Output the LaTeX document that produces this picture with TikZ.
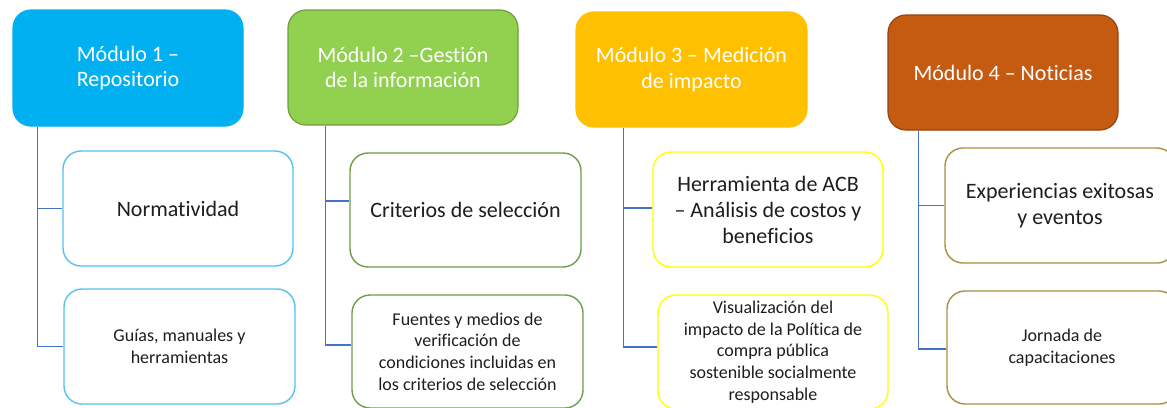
\documentclass[tikz,border=0pt]{standalone}
\usepackage{fontspec}
\setmainfont{Carlito}[Ligatures=NoCommon]
\definecolor{mone}{HTML}{00B0F0}
\definecolor{mtwo}{HTML}{92D050}
\definecolor{mtwoB}{HTML}{6E9E3E}
\definecolor{mthree}{HTML}{FFC000}
\definecolor{mfour}{HTML}{C55A11}
\definecolor{mfourB}{HTML}{96440E}
\definecolor{cone}{HTML}{56C2F0}
\definecolor{ctwo}{HTML}{6E9E48}
\definecolor{cthree}{HTML}{FFFF00}
\definecolor{cfour}{HTML}{A89040}
\definecolor{conn}{HTML}{4472C4}
\definecolor{txt}{HTML}{1E1E1E}
\tikzset{
  hdr/.style={rounded corners=18pt, minimum width=230pt, minimum height=116pt,
    line width=1.2pt, text=white, align=center, inner sep=4pt,
    font=\fontsize{22pt}{25.5pt}\selectfont},
  child/.style={rounded corners=18pt, minimum width=230pt, minimum height=115pt,
    line width=1.4pt, fill=white, text=txt, align=center, inner sep=4pt},
  big/.style={font=\fontsize{22pt}{26pt}\selectfont},
  small/.style={font=\fontsize{18pt}{21.7pt}\selectfont},
  cline/.style={draw=conn, line width=1.3pt}
}
\begin{document}
\begin{tikzpicture}[x=1pt,y=-1pt]
\useasboundingbox (0,0) rectangle (1167,407);
\clip (0,0) rectangle (1167,407);
% headers
\node[hdr, fill=mone, draw=mone] (M1) at (128,68) {Módulo 1 –\\Repositorio};
\node[hdr, fill=mtwo, draw=mtwoB, minimum height=115pt] (M2) at (403,67.5) {Módulo 2 –Gestión\\de la información};
\node[hdr, fill=mthree, draw=mthree, minimum width=231pt, minimum height=115pt] (M3) at (691.5,69.5) {Módulo 3 – Medición\\de impacto};
\node[hdr, fill=mfour, draw=mfourB, minimum height=115pt] (M4) at (1003,72.5) {Módulo 4 – Noticias};
% children
\node[child, big, draw=cone] (A1) at (178,208.5) {Normatividad};
\node[child, small, draw=cone, minimum width=231pt] (A2) at (179.5,346.5) {Guías, manuales y\\herramientas};
\node[child, big, draw=ctwo, minimum width=231pt, minimum height=114pt] (B1) at (465.5,210) {Criterios de selección};
\node[child, small, draw=ctwo, minimum width=231pt, minimum height=113pt] (B2) at (467.5,351.5) {Fuentes y medios de\\verificación de\\condiciones incluidas en\\los criterios de selección};
\node[child, big, draw=cthree] (C1) at (768,209.5) {Herramienta de ACB\\– Análisis de costos y\\beneficios};
\node[child, small, draw=cthree, minimum height=114pt] (C2) at (773,352) {Visualización del\\impacto de la Política de\\compra pública\\sostenible socialmente\\responsable};
\node[child, big, draw=cfour] (D1) at (1060,205.5) {Experiencias exitosas\\y eventos};
\node[child, small, draw=cfour, minimum height=113pt] (D2) at (1062,347.5) {Jornada de\\capacitaciones};
% connector anchor points
\coordinate (m1) at ([xshift=25pt]M1.south west);
\coordinate (m2) at ([xshift=38pt]M2.south west);
\coordinate (m3) at ([xshift=48pt]M3.south west);
\coordinate (m4) at ([xshift=31pt]M4.south west);
\coordinate (a1) at (A1.west);
\coordinate (a2) at (A2.west);
\coordinate (b1) at ([yshift=9pt]B1.west);
\coordinate (b2) at ([yshift=6.5pt]B2.west);
\coordinate (c1) at ([yshift=1.5pt]C1.west);
\coordinate (c2) at ([yshift=5pt]C2.west);
\coordinate (d1) at (D1.west);
\coordinate (d2) at ([yshift=-1.5pt]D2.west);
% connectors
\draw[cline] (m1) |- (a2);
\draw[cline] (m1 |- a1) -- (a1);
\draw[cline] (m2) |- (b2);
\draw[cline] (m2 |- b1) -- (b1);
\draw[cline] (m3) |- (c2);
\draw[cline] (m3 |- c1) -- (c1);
\draw[cline] (m4) |- (d2);
\draw[cline] (m4 |- d1) -- (d1);
\end{tikzpicture}
\end{document}
